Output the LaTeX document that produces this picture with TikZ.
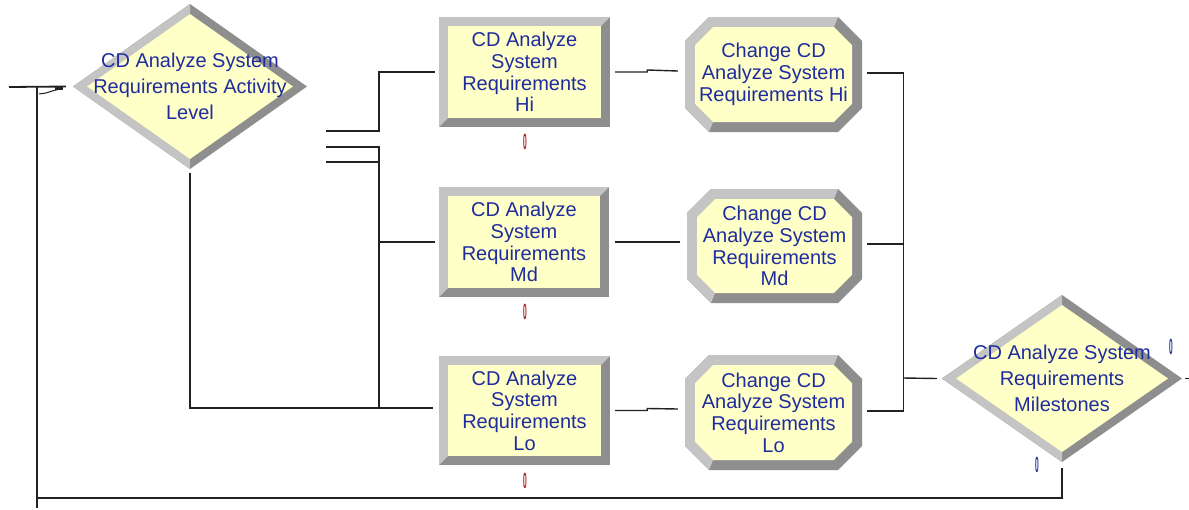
\documentclass[tikz,border=0pt]{standalone}
\usepackage{fontspec}
\usepackage{graphicx}
\setmainfont{Liberation Sans}
\usetikzlibrary{calc}
\definecolor{blight}{HTML}{C4C4C4}
\definecolor{bdark}{HTML}{8E8E8E}
\definecolor{byel}{HTML}{FFFFC8}
\definecolor{tblue}{HTML}{1E2C9E}
\definecolor{mred}{HTML}{B01515}
\definecolor{lgray}{HTML}{222222}
\tikzset{
  conn/.style={draw=lgray, line width=1.4pt},
  boxtxt/.style={font=\fontsize{20}{21.75}\selectfont, text=tblue, align=center, inner sep=0pt},
  dtxt/.style={font=\fontsize{20}{26}\selectfont, text=tblue, align=center, inner sep=0pt},
  bevrect/.style={rectangle, boxtxt, path picture={
    \coordinate (sw) at (path picture bounding box.south west);
    \coordinate (ne) at (path picture bounding box.north east);
    \coordinate (nw) at (path picture bounding box.north west);
    \fill[bdark] (sw) rectangle (ne);
    \fill[blight] (sw) -- (nw) -- (ne) -- ([shift={(-9pt,-9pt)}]ne) -- ([shift={(9pt,-9pt)}]nw) -- ([shift={(9pt,9pt)}]sw) -- cycle;
    \fill[byel] ([shift={(9pt,9pt)}]sw) rectangle ([shift={(-9pt,-9pt)}]ne);
  }},
  bevoct/.style={rectangle, boxtxt, path picture={
    \coordinate (sw) at (path picture bounding box.south west);
    \coordinate (ne) at (path picture bounding box.north east);
    \coordinate (nw) at (path picture bounding box.north west);
    \coordinate (se) at (path picture bounding box.south east);
    \fill[bdark] ([xshift=24pt]sw) -- ([yshift=24pt]sw) -- ([yshift=-24pt]nw) -- ([xshift=24pt]nw) -- ([xshift=-24pt]ne) -- ([yshift=-24pt]ne) -- ([yshift=24pt]se) -- ([xshift=-24pt]se) -- cycle;
    \fill[blight] ([xshift=24pt]sw) -- ([yshift=24pt]sw) -- ([yshift=-24pt]nw) -- ([xshift=24pt]nw) -- ([xshift=-24pt]ne)
      -- ([shift={(-28.1pt,-10pt)}]ne) -- ([shift={(28.1pt,-10pt)}]nw) -- ([shift={(10pt,-28.1pt)}]nw) -- ([shift={(10pt,28.1pt)}]sw) -- ([shift={(28.1pt,10pt)}]sw) -- cycle;
    \fill[byel] ([shift={(28.1pt,10pt)}]sw) -- ([shift={(10pt,28.1pt)}]sw) -- ([shift={(10pt,-28.1pt)}]nw) -- ([shift={(28.1pt,-10pt)}]nw) -- ([shift={(-28.1pt,-10pt)}]ne) -- ([shift={(-10pt,-28.1pt)}]ne) -- ([shift={(-10pt,28.1pt)}]se) -- ([shift={(-28.1pt,10pt)}]se) -- cycle;
  }},
  bevdia/.style={rectangle, dtxt, path picture={
    \coordinate (W) at (path picture bounding box.west);
    \coordinate (N) at (path picture bounding box.north);
    \coordinate (E) at (path picture bounding box.east);
    \coordinate (S) at (path picture bounding box.south);
    \fill[bdark] (W) -- (N) -- (E) -- (S) -- cycle;
    \fill[blight] (S) -- (W) -- (N) -- ([yshift=-10pt]N) -- ([xshift=14pt]W) -- ([yshift=10pt]S) -- cycle;
    \fill[byel] ([xshift=14pt]W) -- ([yshift=-10pt]N) -- ([xshift=-14pt]E) -- ([yshift=10pt]S) -- cycle;
  }},
  cntred/.style={font=\fontsize{22}{22}\bfseries\selectfont, text=mred, inner sep=0pt},
  cntblue/.style={font=\fontsize{22}{22}\bfseries\selectfont, text=tblue, inner sep=0pt},
}
\begin{document}
\begin{tikzpicture}[x=1pt,y=-1pt]
\useasboundingbox[fill=white] (0,0) rectangle (1189,509);

% shapes
\node[bevdia, minimum width=234pt, minimum height=165pt] (d1) at (190,86.5) {CD Analyze System\\Requirements Activity\\Level};
\node[bevrect, minimum width=171pt, minimum height=110pt] (bHi) at (524.5,72) {CD Analyze\\System\\Requirements\\Hi};
\node[bevrect, minimum width=170pt, minimum height=110pt] (bMd) at (524,242) {CD Analyze\\System\\Requirements\\Md};
\node[bevrect, minimum width=171pt, minimum height=109pt] (bLo) at (524.5,410.5) {CD Analyze\\System\\Requirements\\Lo};
\node[bevoct, minimum width=177pt, minimum height=115pt] (cHi) at (773.5,74.5) {Change CD\\Analyze System\\Requirements Hi};
\node[bevoct, minimum width=175pt, minimum height=114pt] (cMd) at (774.5,246) {Change CD\\Analyze System\\Requirements\\Md};
\node[bevoct, minimum width=177pt, minimum height=115pt] (cLo) at (773.5,412.5) {Change CD\\Analyze System\\Requirements\\Lo};
\node[bevdia, minimum width=240pt, minimum height=167pt] (d2) at (1062,378.5) {CD Analyze System\\Requirements\\Milestones};

% counters
\node[cntred] (mHi) at (525,142) {\scalebox{0.3}[1]{0}};
\node[cntred] (mMd) at (525,312) {\scalebox{0.3}[1]{0}};
\node[cntred] (mLo) at (525,481) {\scalebox{0.3}[1]{0}};
\node[cntblue] (mT) at (1171,347) {\scalebox{0.3}[1]{0}};
\node[cntblue] (mF) at (1037,465) {\scalebox{0.3}[1]{0}};

% exit points of first decision
\coordinate (o1) at (326,131);
\coordinate (o2) at (326,147);
\coordinate (o3) at (326,162);
\coordinate (busL) at (379,408);
\coordinate (busR) at (903,378);

\draw[conn] (o1) -- (379,131) |- ([xshift=-4pt]bHi.west);
\draw[conn] (o2) -- (379,147) -- (busL);
\draw[conn] (o3) -- (379,162);
\draw[conn] (379,242) -- ([xshift=-4pt]bMd.west);
\draw[conn] ([yshift=-4pt]d1.south) |- ([xshift=-6pt]bLo.west |- busL);

% box -> change
\draw[conn] ([xshift=5pt]bHi.east) -- ++(32,0) -- ++(0,-2) -- ([xshift=-7pt,yshift=3.5pt]cHi.west);
\draw[conn] ([xshift=6pt]bMd.east) -- ([xshift=-7pt]cMd.west |- bMd.east);
\draw[conn] ([xshift=5pt]bLo.east) -- ++(32,0) -- ++(0,-2) -- ([xshift=-7pt,yshift=3.5pt]cLo.west);

% change -> milestones
\draw[conn] ([xshift=5pt,yshift=1.5pt]cHi.east) -| ([xshift=41pt,yshift=1.5pt]cLo.east) -- ([xshift=5pt,yshift=1.5pt]cLo.east);
\draw[conn] ([xshift=5pt,yshift=2pt]cMd.east) -- ([xshift=41pt,yshift=2pt]cMd.east);
\draw[conn] (busR) -- ([xshift=-5pt]d2.west);
\draw[conn] ([xshift=3pt]d2.east) -- (1189,378.5);

% feedback loop
\coordinate (fbin) at (37,87);
\draw[conn] ([yshift=-6pt]d2.south) |- (37,498);
\draw[draw=lgray, line width=2.5pt] (fbin) -- (37,508);
\draw[draw=lgray, line width=1.8pt] (9,87) -- ([xshift=-7pt]d1.west);
\draw[draw=lgray, line width=1pt] (39,94) -- (46,93) -- (52,91) -- (62,88.5);
\fill[lgray] (55,86.5) rectangle (63,89.5);
\end{tikzpicture}
\end{document}
